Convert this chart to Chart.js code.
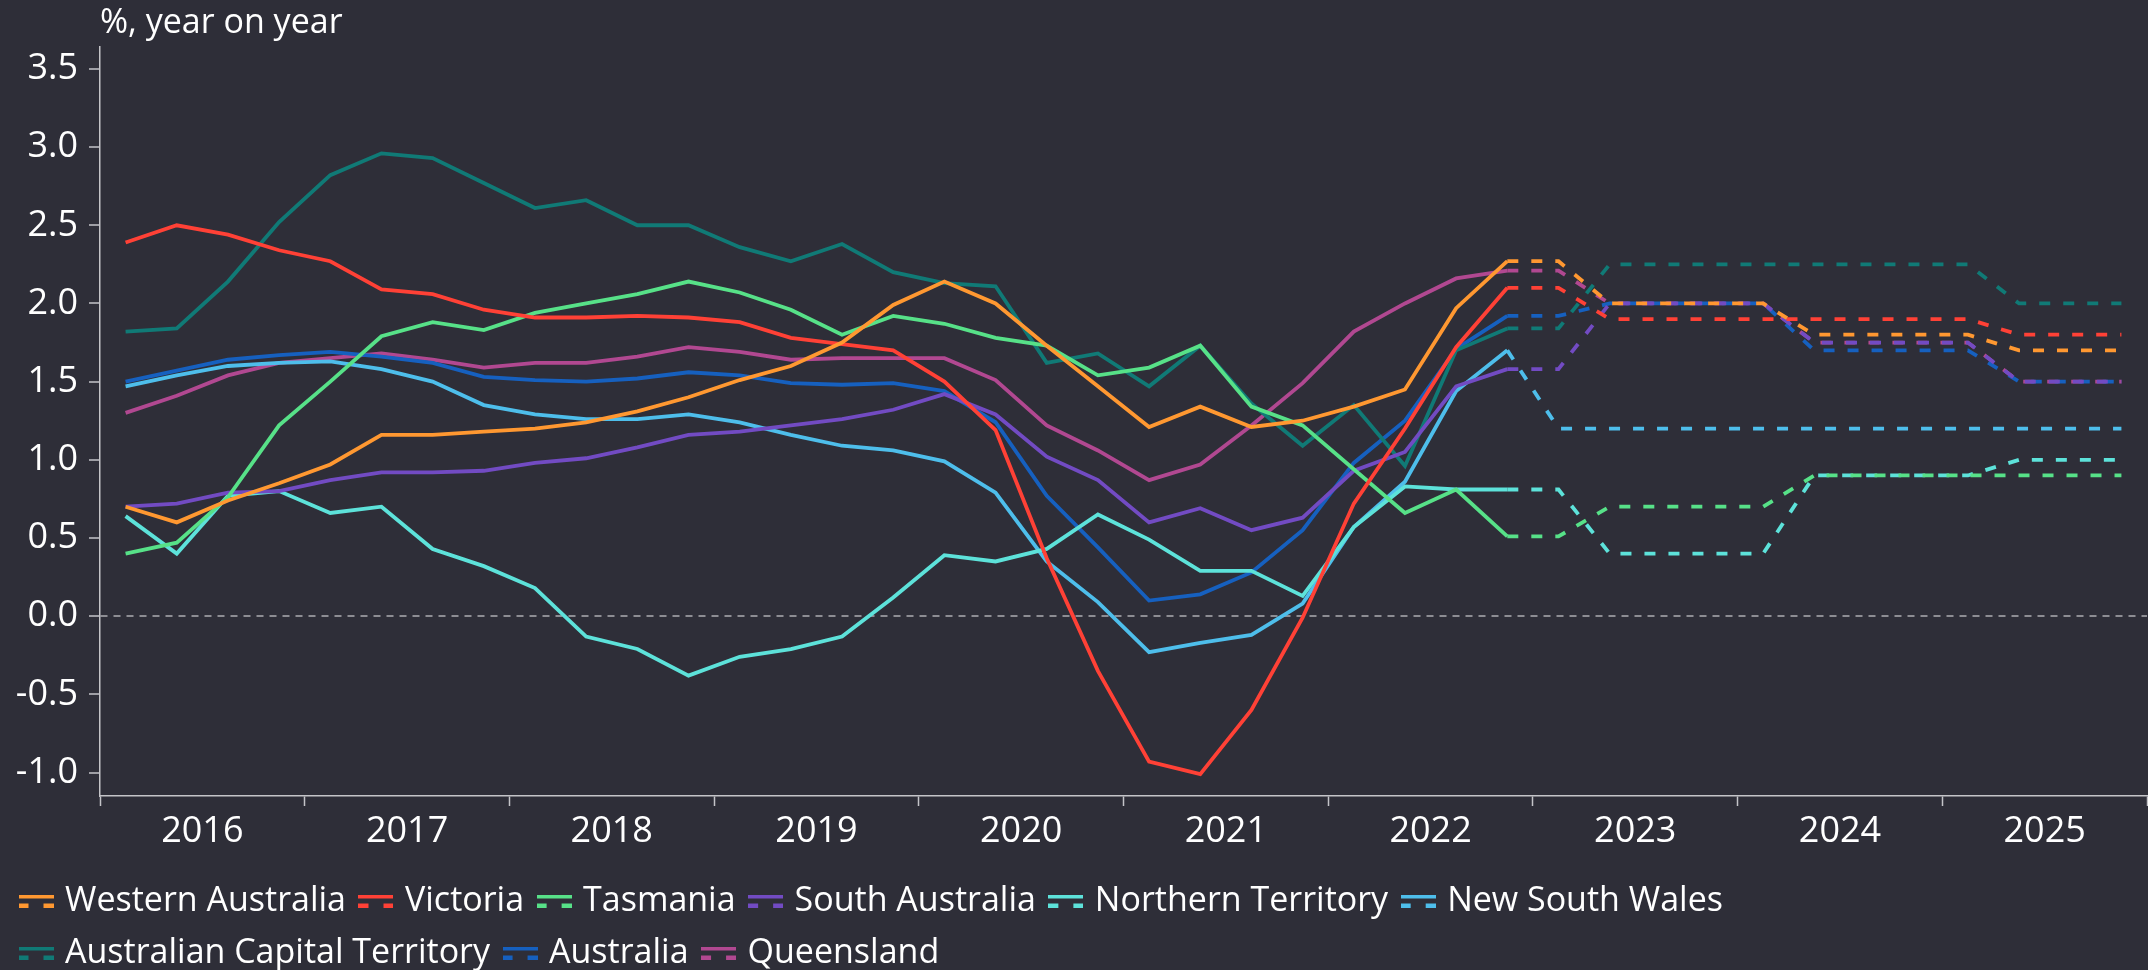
<!DOCTYPE html>
<html>
<head>
<meta charset="utf-8">
<title>Housing price growth by state</title>
<script src="https://cdn.jsdelivr.net/npm/chart.js@4.4.1/dist/chart.umd.min.js"></script>
<style>
  html, body { margin: 0; padding: 0; background: #2e2e38; overflow: hidden; }
  #wrap { width: 2148px; height: 980px; position: relative; }
</style>
</head>
<body>
<div id="wrap"><canvas id="chart"></canvas></div>
<script>
// quarterly categories, 2016 Q1 .. 2025 Q4
const quarters = [
  '2016 Q1', '2016 Q2', '2016 Q3', '2016 Q4', '2017 Q1', '2017 Q2', '2017 Q3', '2017 Q4',
  '2018 Q1', '2018 Q2', '2018 Q3', '2018 Q4', '2019 Q1', '2019 Q2', '2019 Q3', '2019 Q4',
  '2020 Q1', '2020 Q2', '2020 Q3', '2020 Q4', '2021 Q1', '2021 Q2', '2021 Q3', '2021 Q4',
  '2022 Q1', '2022 Q2', '2022 Q3', '2022 Q4', '2023 Q1', '2023 Q2', '2023 Q3', '2023 Q4',
  '2024 Q1', '2024 Q2', '2024 Q3', '2024 Q4', '2025 Q1', '2025 Q2', '2025 Q3', '2025 Q4'
];
const years = ['2016', '2017', '2018', '2019', '2020', '2021', '2022', '2023', '2024', '2025'];
const yTicks = [-1.0, -0.5, 0.0, 0.5, 1.0, 1.5, 2.0, 2.5, 3.0, 3.5];

const regions = ['Western Australia', 'Victoria', 'Tasmania', 'South Australia', 'Northern Territory',
  'New South Wales', 'Australian Capital Territory', 'Australia', 'Queensland'];
const colors = ['#ff9831', '#ff4136', '#57e188', '#724bc3', '#5de2da', '#4ebeeb', '#107a76', '#1660bf', '#b14891'];

// actuals, 2016 Q1 .. 2022 Q4
const waHist = [0.70, 0.60, 0.74, 0.85, 0.97, 1.16, 1.16, 1.18, 1.20, 1.24, 1.31, 1.40, 1.51, 1.60, 1.75, 1.99, 2.14, 2.00, 1.73, 1.47, 1.21, 1.34, 1.21, 1.25, 1.34, 1.45, 1.97, 2.27];
const vicHist = [2.39, 2.50, 2.44, 2.34, 2.27, 2.09, 2.06, 1.96, 1.91, 1.91, 1.92, 1.91, 1.88, 1.78, 1.74, 1.70, 1.50, 1.19, 0.37, -0.35, -0.93, -1.01, -0.60, -0.01, 0.72, 1.20, 1.72, 2.10];
const tasHist = [0.40, 0.47, 0.76, 1.22, 1.50, 1.79, 1.88, 1.83, 1.94, 2.00, 2.06, 2.14, 2.07, 1.96, 1.80, 1.92, 1.87, 1.78, 1.73, 1.54, 1.59, 1.73, 1.34, 1.22, 0.94, 0.66, 0.81, 0.51];
const saHist = [0.70, 0.72, 0.79, 0.80, 0.87, 0.92, 0.92, 0.93, 0.98, 1.01, 1.08, 1.16, 1.18, 1.22, 1.26, 1.32, 1.42, 1.29, 1.02, 0.87, 0.60, 0.69, 0.55, 0.63, 0.93, 1.05, 1.47, 1.58];
const ntHist = [0.64, 0.40, 0.77, 0.80, 0.66, 0.70, 0.43, 0.32, 0.18, -0.13, -0.21, -0.38, -0.26, -0.21, -0.13, 0.12, 0.39, 0.35, 0.43, 0.65, 0.49, 0.29, 0.29, 0.13, 0.57, 0.83, 0.81, 0.81];
const nswHist = [1.47, 1.54, 1.60, 1.62, 1.63, 1.58, 1.50, 1.35, 1.29, 1.26, 1.26, 1.29, 1.24, 1.16, 1.09, 1.06, 0.99, 0.79, 0.35, 0.09, -0.23, -0.17, -0.12, 0.08, 0.57, 0.86, 1.44, 1.70];
const actHist = [1.82, 1.84, 2.14, 2.52, 2.82, 2.96, 2.93, 2.77, 2.61, 2.66, 2.50, 2.50, 2.36, 2.27, 2.38, 2.20, 2.13, 2.11, 1.62, 1.68, 1.47, 1.73, 1.36, 1.09, 1.35, 0.96, 1.70, 1.84];
const ausHist = [1.50, 1.57, 1.64, 1.67, 1.69, 1.66, 1.62, 1.53, 1.51, 1.50, 1.52, 1.56, 1.54, 1.49, 1.48, 1.49, 1.44, 1.24, 0.77, 0.44, 0.10, 0.14, 0.28, 0.55, 0.98, 1.25, 1.71, 1.92];
const qldHist = [1.30, 1.41, 1.54, 1.62, 1.65, 1.68, 1.64, 1.59, 1.62, 1.62, 1.66, 1.72, 1.69, 1.64, 1.65, 1.65, 1.65, 1.51, 1.22, 1.06, 0.87, 0.97, 1.22, 1.49, 1.82, 2.00, 2.16, 2.21];

// forecasts, 2022 Q4 .. 2025 Q4
const waFc = [2.27, 2.27, 2.0, 2.0, 2.0, 2.0, 1.8, 1.8, 1.8, 1.8, 1.7, 1.7, 1.7];
const vicFc = [2.10, 2.10, 1.9, 1.9, 1.9, 1.9, 1.9, 1.9, 1.9, 1.9, 1.8, 1.8, 1.8];
const tasFc = [0.51, 0.51, 0.7, 0.7, 0.7, 0.7, 0.9, 0.9, 0.9, 0.9, 0.9, 0.9, 0.9];
const saFc = [1.58, 1.58, 2.0, 2.0, 2.0, 2.0, 1.75, 1.75, 1.75, 1.75, 1.5, 1.5, 1.5];
const ntFc = [0.81, 0.81, 0.4, 0.4, 0.4, 0.4, 0.9, 0.9, 0.9, 0.9, 1.0, 1.0, 1.0];
const nswFc = [1.70, 1.2, 1.2, 1.2, 1.2, 1.2, 1.2, 1.2, 1.2, 1.2, 1.2, 1.2, 1.2];
const actFc = [1.84, 1.84, 2.25, 2.25, 2.25, 2.25, 2.25, 2.25, 2.25, 2.25, 2.0, 2.0, 2.0];
const ausFc = [1.92, 1.92, 2.0, 2.0, 2.0, 2.0, 1.7, 1.7, 1.7, 1.7, 1.5, 1.5, 1.5];
const qldFc = [2.21, 2.21, 2.0, 2.0, 2.0, 2.0, 1.75, 1.75, 1.75, 1.75, 1.5, 1.5, 1.5];

const histSeries = [waHist, vicHist, tasHist, saHist, ntHist, nswHist, actHist, ausHist, qldHist];
const fcSeries = [waFc, vicFc, tasFc, saFc, ntFc, nswFc, actFc, ausFc, qldFc];

const FONT = "'Open Sans', 'Liberation Sans', sans-serif";
const axisColor = '#c4c4c8';
const textColor = '#ffffff';

// legend marker: solid bar over two dashes
function legendIcon(color) {
  const c = document.createElement('canvas');
  c.width = 35;
  c.height = 13;
  const g = c.getContext('2d');
  g.fillStyle = color;
  g.fillRect(0, 0, 35, 4);
  g.fillRect(0, 9, 10, 4);
  g.fillRect(25, 9, 10, 4);
  return c;
}
const icons = colors.map(legendIcon);

const fcStart = quarters.length - waFc.length;

const datasets = [];
regions.forEach((name, i) => {
  datasets.push({
    label: name,
    data: histSeries[i],
    borderColor: colors[i],
    backgroundColor: colors[i],
    borderWidth: 3.8,
    pointRadius: 0,
    tension: 0,
    fill: false
  });
});
regions.forEach((name, i) => {
  datasets.push({
    label: name + ' (forecast)',
    data: new Array(fcStart).fill(null).concat(fcSeries[i]),
    borderColor: colors[i],
    backgroundColor: colors[i],
    borderWidth: 3.8,
    borderDash: [11, 13],
    pointRadius: 0,
    tension: 0,
    fill: false
  });
});

// unit caption over the y axis
const caption = {
  id: 'caption',
  afterDraw(chart, args, opts) {
    const ctx = chart.ctx;
    ctx.save();
    ctx.font = '400 34px ' + FONT;
    ctx.fillStyle = textColor;
    ctx.textAlign = 'left';
    ctx.textBaseline = 'alphabetic';
    ctx.fillText(opts.text, chart.chartArea.left, 33);
    ctx.restore();
  }
};

new Chart(document.getElementById('chart'), {
  type: 'line',
  data: { labels: quarters, datasets: datasets },
  plugins: [caption],
  options: {
    responsive: true,
    maintainAspectRatio: false,
    animation: false,
    devicePixelRatio: 1,
    layout: { padding: { top: 47, left: 6, right: 1, bottom: 0 } },
    plugins: {
      caption: { text: '%, year on year' },
      tooltip: { enabled: false },
      legend: {
        position: 'bottom',
        align: 'start',
        labels: {
          usePointStyle: true,
          pointStyleWidth: 24,
          padding: 18,
          color: textColor,
          font: { family: FONT, size: 34, weight: 400 },
          generateLabels(chart) {
            const items = Chart.defaults.plugins.legend.labels.generateLabels(chart);
            return items
              .filter(it => it.datasetIndex < regions.length)
              .map(it => Object.assign(it, { pointStyle: icons[it.datasetIndex] }));
          }
        }
      }
    },
    scales: {
      x: {
        type: 'category',
        offset: true,
        afterFit(scale) { scale.height = 70; },
        border: { display: true, color: axisColor, width: 1.5 },
        grid: {
          offset: true,
          drawOnChartArea: false,
          drawTicks: true,
          tickLength: 10,
          tickWidth: 1.5,
          color: 'transparent',
          tickColor: ctx => (ctx.index === undefined || ctx.index % 4 === 0) ? axisColor : 'transparent'
        },
        ticks: {
          autoSkip: false,
          maxRotation: 0,
          minRotation: 0,
          padding: 4,
          labelOffset: 25.6,
          color: textColor,
          font: { family: FONT, size: 36, weight: 400 },
          callback: (value, index) => index % 4 === 1 ? years[(index - 1) / 4] : ''
        }
      },
      y: {
        min: -1.15,
        max: 3.64,
        afterFit(scale) { scale.width = 94; },
        afterBuildTicks(scale) { scale.ticks = yTicks.map(v => ({ value: v })); },
        border: { display: true, color: axisColor, width: 1.5, dash: [7, 6] },
        grid: {
          drawOnChartArea: true,
          drawTicks: true,
          tickLength: 11,
          tickWidth: 1.5,
          lineWidth: 2,
          color: ctx => (ctx.tick && ctx.tick.value === 0) ? '#8d8d93' : 'transparent',
          tickColor: axisColor
        },
        ticks: {
          padding: 11,
          color: textColor,
          font: { family: FONT, size: 36, weight: 400 },
          callback: v => v.toFixed(1)
        }
      }
    }
  }
});
</script>
</body>
</html>
